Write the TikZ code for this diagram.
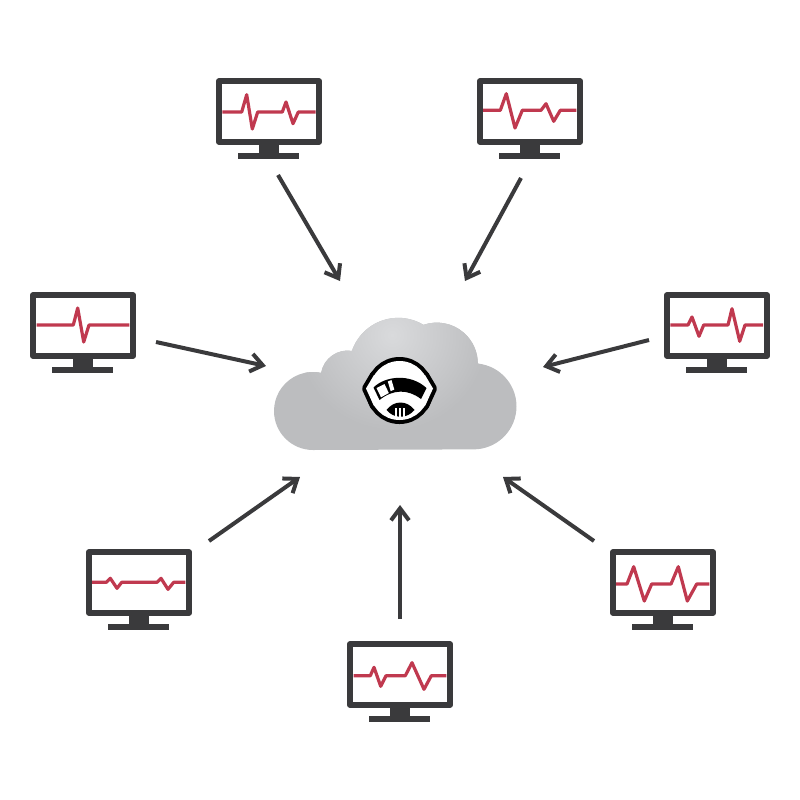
\documentclass[tikz,border=0pt]{standalone}
\usetikzlibrary{arrows.meta}
\definecolor{framegrey}{HTML}{3A3A3C}
\definecolor{tracered}{HTML}{C0394F}
\definecolor{cloudgrey}{HTML}{BCBDBF}
\definecolor{cloudlight}{HTML}{D9DADC}

% #1 name, #2 left, #3 top, #4 trace points
\newcommand{\monitor}[4]{
    \begin{scope}[shift={(#2,#3)}]
        \node[screen] (#1) at (53,33.5) {};
        \fill[framegrey] (43,67) rectangle (63,75);
        \fill[framegrey] (22,75) rectangle (83,81);
        \draw[trace] plot coordinates {#4};
    \end{scope}
}

\begin{document}
\begin{tikzpicture}[
        x=0.01cm, y=-0.01cm,
        screen/.style={
            draw=framegrey,
            fill=white,
            line width=0.62mm,
            line join=round,
            minimum width=1cm,
            minimum height=0.605cm,
            inner sep=0pt,
            outer sep=0pt
        },
        trace/.style={tracered, line width=0.32mm, line join=round},
        arrow/.style={
            -{Straight Barb[length=1.2mm, width=1.8mm, line width=0.4mm]},
            framegrey, line width=0.4mm
        },
        rim/.style={black, line width=0.8mm, line join=round}
    ]
    \useasboundingbox (0,0) rectangle (800,800);

    % Nuvem
    \begin{scope}
        \clip (313,450)
            arc[start angle=90, end angle=282, radius=39]
            arc[start angle=190, end angle=279, radius=27]
            arc[start angle=199, end angle=301, radius=49]
            arc[start angle=251, end angle=360, radius=41]
            arc[start angle=275.8, end angle=450, radius=43]
            -- cycle;
        \fill[cloudgrey] (270,310) rectangle (520,455);
        \shade[inner color=cloudlight, outer color=cloudgrey] (392,335) circle (95);
    \end{scope}

    % Sensor
    \draw[rim] (399.5,390.5) circle (29.5);
    \draw[rim] (374,375) -- (366,388.5) -- (374,406) -- (425,406) -- (433,388.5) -- (425,375) -- cycle;
    \fill[white] (399.5,390.5) circle (29.5);
    \fill[white] (374,375) -- (366,388.5) -- (374,406) -- (425,406) -- (433,388.5) -- (425,375) -- cycle;
    \fill[black] (373.5,387.5) .. controls (385,376) and (410,373) .. (426.5,388)
        -- (421,399) .. controls (408,389) and (393,389) .. (379.5,400) -- cycle;
    \fill[white] (376.5,388) -- (384.5,384) -- (388.8,393) -- (381,397.3) -- cycle;
    \fill[white] (387.8,381.5) -- (391.5,380) -- (394.3,389.5) -- (390.7,391.2) -- cycle;
    \fill[black] (386.5,410) .. controls (394,400) and (407,400) .. (414.5,410)
        .. controls (407,419) and (394,419) .. (386.5,410) -- cycle;
    \foreach \xbar in {396,400,404}
        \draw[white, line width=0.12mm] (\xbar,408) -- (\xbar,417);

    % Monitores
    \monitor{mon1}{216}{78}{(6.3,34) (25.7,34) (30.7,16.7) (36.3,51) (41.7,34) (66.3,34) (70,24) (77,45.7) (82.3,34) (99.7,34)}
    \monitor{mon2}{477}{78}{(6,32.3) (23.3,32.3) (29.3,15.7) (38,50) (45.3,32.3) (64,32.3) (69,25.7) (76.7,43.3) (83.3,32.3) (99.3,32.3)}
    \monitor{mon3}{30}{292}{(6.7,33) (43.3,33) (47.7,16) (53.7,50) (59,33) (99.3,33)}
    \monitor{mon4}{664}{292}{(6.3,33) (24,33) (28,25) (35,44.3) (39.7,33) (64,33) (68,16.7) (75.7,49.3) (81,33) (99,33)}
    \monitor{mon5}{86}{549}{(6,33.3) (20.3,33.3) (24.3,29.3) (31,39.3) (35.7,33.3) (71,33.3) (75,29.3) (82,40.3) (87.7,33.3) (99.3,33.3)}
    \monitor{mon6}{610}{549}{(6,35) (17,35) (23.7,17.7) (34.3,52) (41.7,35) (61,35) (68.3,17.7) (77.3,52) (86.7,35) (99.3,35)}
    \monitor{mon7}{347}{641}{(6.7,34.7) (23.3,34.7) (27,26.3) (33.7,45.3) (39,34.7) (58.3,34.7) (65,21.7) (77,48.3) (84.3,34.7) (99.3,34.7)}

    % Pontas das setas
    \coordinate (out1) at (278,175);
    \coordinate (in1) at (340,281);
    \coordinate (out2) at (521,178);
    \coordinate (in2) at (465,281);
    \coordinate (out3) at (156,342);
    \coordinate (in3) at (266,366);
    \coordinate (out4) at (649,340);
    \coordinate (in4) at (543,367);
    \coordinate (out5) at (209,541);
    \coordinate (in5) at (300,477);
    \coordinate (out6) at (594,541);
    \coordinate (in6) at (503,477);
    \coordinate (out7) at (400,619);
    \coordinate (in7) at (400,505);

    % Setas
    \draw[arrow] (out1) -- (in1);
    \draw[arrow] (out2) -- (in2);
    \draw[arrow] (out3) -- (in3);
    \draw[arrow] (out4) -- (in4);
    \draw[arrow] (out5) -- (in5);
    \draw[arrow] (out6) -- (in6);
    \draw[arrow] (out7) -- (in7);

\end{tikzpicture}
\end{document}
